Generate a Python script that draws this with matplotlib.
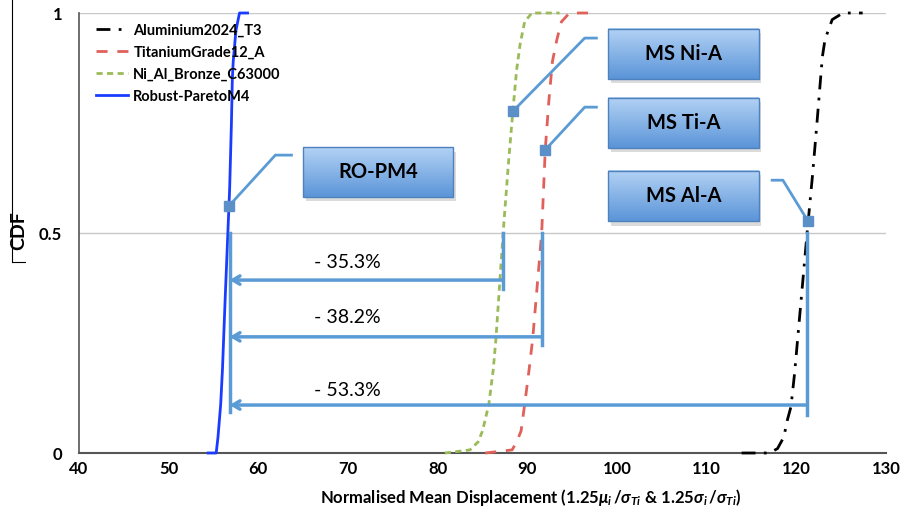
import numpy as np
import matplotlib
matplotlib.use("Agg")
from matplotlib import pyplot as plt
from matplotlib.colors import LinearSegmentedColormap
from matplotlib.patches import Rectangle
from matplotlib.lines import Line2D

plt.rcParams["font.family"] = ["Lato", "DejaVu Sans"]
plt.rcParams["font.weight"] = "bold"
plt.rcParams["mathtext.fontset"] = "custom"
plt.rcParams["mathtext.rm"] = "Lato:bold"
plt.rcParams["mathtext.it"] = "Lato:bold:italic"
plt.rcParams["mathtext.bf"] = "Lato:bold"

# ============================================================
# Dados
# ============================================================

al_x = [113.9, 117.0, 117.9, 118.6, 119.0, 119.4, 119.8, 120.5, 121.2, 121.8,
        122.3, 122.9, 123.2, 124.0, 125.2, 127.4]
al_y = [0.0, 0.0, 0.01, 0.036, 0.075, 0.105, 0.18, 0.34, 0.5, 0.63,
        0.75, 0.9, 0.94, 0.985, 1.0, 1.0]

ti_x = [85.3, 88.3, 88.8, 89.3, 89.7, 90.2, 90.6, 91.1, 91.6, 92.0,
        92.4, 92.8, 93.3, 93.8, 94.7, 97.7]
ti_y = [0.0, 0.007, 0.025, 0.05, 0.11, 0.19, 0.26, 0.38, 0.5, 0.69,
        0.8, 0.89, 0.94, 0.98, 1.0, 1.0]

ni_x = [80.8, 83.6, 84.5, 85.0, 85.7, 86.2, 86.5, 86.9, 87.3, 87.9,
        88.4, 88.8, 89.2, 89.7, 90.5, 93.6]
ni_y = [0.0, 0.007, 0.025, 0.05, 0.11, 0.19, 0.26, 0.38, 0.5, 0.66,
        0.78, 0.87, 0.93, 0.98, 1.0, 1.0]

ro_x = [54.4, 55.3, 55.5, 55.8, 56.0, 56.3, 56.6, 56.8, 57.0, 57.1,
        57.2, 57.5, 57.9, 58.8]
ro_y = [0.0, 0.0, 0.036, 0.11, 0.19, 0.35, 0.5, 0.6, 0.75, 0.85,
        0.89, 0.96, 1.0, 1.0]

# deslocamento na mediana (CDF = 0.5)
mediana_ro = 56.8
mediana_ms = [87.3, 91.6, 121.2]
reducao = ["- 35.3%", "- 38.2%", "- 53.3%"]

xticks = [40, 50, 60, 70, 80, 90, 100, 110, 120, 130]

# ============================================================
# Figura
# ============================================================

fig = plt.figure(figsize=(9.03, 5.17), dpi=100)
ax = fig.add_axes([79 / 903, 64 / 517, 807 / 903, 440 / 517])

azul_seta = "#5b9bd5"

ax.plot(al_x, al_y, color="black", lw=2, dashes=(5, 3, 1, 3),
        label="Aluminium2024_T3", clip_on=False, zorder=3)
ax.plot(ti_x, ti_y, color="#e0605a", lw=2, dashes=(4, 3.5),
        label="TitaniumGrade12_A", clip_on=False, zorder=3)
ax.plot(ni_x, ni_y, color="#9bbb59", lw=2, dashes=(2.2, 1.6),
        label="Ni_Al_Bronze_C63000", clip_on=False, zorder=3)
ax.plot(ro_x, ro_y, color="#1a3cff", lw=2,
        label="Robust-ParetoM4", clip_on=False, zorder=3)

ax.set_xlim(40, 130)
ax.set_ylim(0, 1)
ax.set_xticks(xticks)
ax.set_yticks([0, 0.5, 1])
ax.set_yticklabels(["0", "0.5", "1"])
ax.tick_params(length=0, labelsize=12)
ax.tick_params(axis="x", pad=6)
ax.tick_params(axis="y", pad=12)

for s in ["top", "right"]:
    ax.spines[s].set_visible(False)
ax.spines["left"].set_color("#555555")
ax.spines["bottom"].set_color("#555555")
ax.spines["left"].set_linewidth(1.2)
ax.spines["bottom"].set_linewidth(1.5)

for yg in [0.5, 1.0]:
    ax.axhline(yg, color="#c8c8c8", lw=1, zorder=1)

ax.set_xlabel(r"Normalised Mean Displacement (1.25$\mu_i\,/\sigma_{Ti}$ $\mathit{&\ 1.25}\sigma_i\,/\sigma_{Ti}$)",
              fontsize=12, fontweight="bold")
ax.xaxis.set_label_coords(0.56, -0.078)

fig.text(19 / 903, 1 - 231 / 517, "CDF", rotation=90, fontsize=14,
         fontweight="bold", ha="center", va="center")
fig.add_artist(Line2D([12 / 903, 12 / 903], [1.0, 1 - 262 / 517],
                      color="black", lw=0.8))
fig.add_artist(Line2D([12 / 903, 25 / 903], [1 - 262 / 517, 1 - 262 / 517],
                      color="black", lw=0.8))

leg = ax.legend(loc="upper left", bbox_to_anchor=(0.005, 1.006), frameon=False,
                prop={"weight": "bold", "size": 10.5}, handlelength=2.2,
                handletextpad=0.35, labelspacing=0.55)

# ============================================================
# Setas de redução
# ============================================================

y_setas = [0.393, 0.264, 0.109]
y_fim = [0.373, 0.245, 0.086]
y_txt = [0.432, 0.307, 0.143]

ax.plot([mediana_ro, mediana_ro], [0.5, 0.093], color=azul_seta, lw=2.5, zorder=4)
for xm, ys, yf, yt, txt in zip(mediana_ms, y_setas, y_fim, y_txt, reducao):
    ax.plot([xm, xm], [0.5, yf], color=azul_seta, lw=2.5, zorder=4)
    ax.annotate("", xy=(mediana_ro, ys), xytext=(xm, ys),
                arrowprops=dict(arrowstyle="->,head_length=0.5,head_width=0.3",
                                color=azul_seta, lw=2.5, shrinkA=0, shrinkB=0),
                zorder=4)
    ax.text(69.9, yt, txt, fontsize=14, fontweight="normal",
            ha="center", va="center")

# ============================================================
# Caixas de rótulo
# ============================================================

cmap_caixa = LinearSegmentedColormap.from_list("caixa", ["#b3d2f5", "#5b95d8"])
grad = np.linspace(0, 1, 64)[:, None]

caixas = [
    ("MS Ni-A", (99.0, 115.8, 0.850, 0.964), (88.4, 0.777), (96.4, 0.943), (97.7, 0.943)),
    ("MS Ti-A", (99.0, 115.8, 0.693, 0.807), (92.0, 0.689), (96.4, 0.786), (97.7, 0.786)),
    ("MS Al-A", (99.0, 115.8, 0.527, 0.641), (121.3, 0.527), (118.5, 0.620), (117.3, 0.620)),
    ("RO-PM4", (65.0, 81.7, 0.582, 0.695), (56.7, 0.561), (61.9, 0.677), (63.7, 0.677)),
]

for nome, (x0, x1, y0, y1), pm, pc, pf in caixas:
    ax.add_patch(Rectangle((x0 + 0.3, y0 - 0.01), x1 - x0, y1 - y0,
                           color="#999999", alpha=0.35, lw=0, zorder=5))
    ax.imshow(grad, extent=[x0, x1, y0, y1], cmap=cmap_caixa, aspect="auto",
              zorder=6, interpolation="bilinear")
    ax.add_patch(Rectangle((x0, y0), x1 - x0, y1 - y0, fill=False,
                           edgecolor="#4f81bd", lw=1, zorder=7))
    ax.text((x0 + x1) / 2, (y0 + y1) / 2, nome, fontsize=14.5,
            fontweight="bold", ha="center", va="center", zorder=8)
    ax.plot([pm[0], pc[0], pf[0]], [pm[1], pc[1], pf[1]],
            color=azul_seta, lw=2, zorder=4)
    ax.plot(pm[0], pm[1], "s", color="#5b8fc8", ms=7, zorder=5)

ax.set_xlim(40, 130)
ax.set_ylim(0, 1)

fig.savefig("out.png", dpi=100)
